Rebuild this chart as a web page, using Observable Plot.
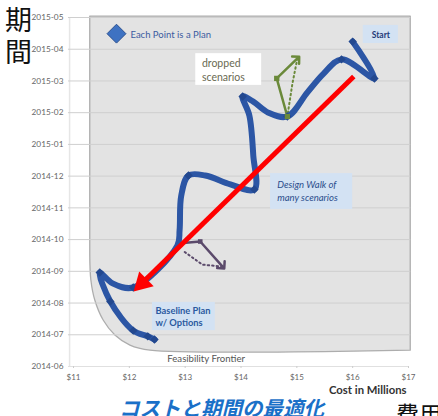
<!DOCTYPE html>
<html><head><meta charset="utf-8">
<script src="https://cdn.jsdelivr.net/npm/d3@7"></script>
<script src="https://cdn.jsdelivr.net/npm/@observablehq/plot@0.6"></script>
<style>
body{margin:0;background:#fff;}
#wrap{position:relative;width:438px;height:416px;overflow:hidden;font-family:Lato,"Open Sans",sans-serif;}
.ov{position:absolute;white-space:nowrap;}
</style></head>
<body><div id="wrap"></div>
<script>
// month tick labels (y index 0..11)
const monthLabels = ["2014-06","2014-07","2014-08","2014-09","2014-10","2014-11","2014-12","2015-01","2015-02","2015-03","2015-04","2015-05"];
const costTicks = [11,12,13,14,15,16,17];
// design walk path: cost ($M), schedule (months since 2014-06), plan marker flag
const walkCost  = [16.00,16.39,15.80,15.48,15.19,14.83,14.49,14.22,14.03,14.15,14.22,14.24,13.81,13.36,13.06,12.93,12.90,12.86,12.07,11.70,11.47,11.66,12.07,12.33,12.45];
const walkMonth = [10.24, 9.08, 9.68, 9.23, 8.64, 7.88, 8.00, 8.35, 8.51, 7.91, 6.65, 5.58, 5.74, 6.02, 6.02, 5.39, 4.29, 3.81, 2.49, 2.62, 2.96, 2.05, 1.13, 0.95, 0.85];
const walkIsPlan = [1,1,1,0,0,1,0,0,1,0,0,1,0,0,1,0,0,0,1,0,1,1,1,1,1];
// dropped scenarios
const greenCost = [14.83,14.64,15.01];
const greenMonth = [7.88,9.08,9.71];
const greenBackCost = [15.01,14.92,14.83];
const greenBackMonth = [9.71,8.91,7.88];
const purpleCost = [12.86,13.27,13.67];
const purpleMonth = [3.88,3.94,3.15];
const purpleBackCost = [13.67,13.31,12.95];
const purpleBackMonth = [3.15,3.21,3.66];
// feasibility frontier (lower-left boundary of feasible region)
const frontierCost = [11.30,11.32,11.39,11.54,11.75,12.02,12.38,17.04];
const frontierMonth = [3.50,2.71,2.08,1.45,0.98,0.66,0.50,0.50];
const regionTop = 11.03;
// red trend arrow (shaft from start to head, head angle in degrees)
const trend = [{x1:16.02,y1:9.14,x2:12.23,y2:2.63,angle:225.6}];

const walk = walkCost.map((c,i)=>({cost:c, month:walkMonth[i], plan:walkIsPlan[i]===1}));
const green = greenCost.map((c,i)=>({cost:c, month:greenMonth[i]}));
const greenBack = greenBackCost.map((c,i)=>({cost:c, month:greenBackMonth[i]}));
const purple = purpleCost.map((c,i)=>({cost:c, month:purpleMonth[i]}));
const purpleBack = purpleBackCost.map((c,i)=>({cost:c, month:purpleBackMonth[i]}));
const frontier = frontierCost.map((c,i)=>({cost:c, month:frontierMonth[i]}));

const boxes = [
  {x1:16.19,x2:16.82,y1:10.18,y2:10.75,fill:"#d3e2f3"},
  {x1:13.19,x2:14.37,y1:8.86,y2:9.86,fill:"#ffffff"},
  {x1:14.53,x2:16.00,y1:4.95,y2:6.08,fill:"#d3e2f3"},
  {x1:12.415,x2:13.54,y1:1.13,y2:2.02,fill:"#d3e2f3"}
];
const notes = [
  {x:16.505,y:10.46,text:"Start",anchor:"middle",fill:"#1f3a78",weight:"bold",style:"normal",size:8.5},
  {x:13.30,y:9.36,text:"dropped\nscenarios",anchor:"start",fill:"#6a6a52",weight:"normal",style:"normal",size:10.5},
  {x:14.65,y:5.55,text:"Design Walk of\nmany scenarios",anchor:"start",fill:"#2b4d8c",weight:"normal",style:"italic",size:9.5},
  {x:12.47,y:1.58,text:"Baseline Plan\nw/ Options",anchor:"start",fill:"#2b5aa0",weight:"bold",style:"normal",size:9.3},
  {x:12.02,y:10.49,text:"Each Point is a Plan",anchor:"start",fill:"#3b5ba0",weight:"normal",style:"normal",size:9.5},
  {x:12.68,y:0.28,text:"Feasibility Frontier",anchor:"start",fill:"#555555",weight:"normal",style:"normal",size:9.6}
];
const legendMark = [{x:11.77,y:10.49}];

const blue = "#2c56a5";
const chart = Plot.plot({
  width:438, height:416,
  marginLeft:73, marginRight:30, marginTop:17, marginBottom:50,
  style:{fontFamily:"Lato, 'Open Sans', sans-serif", background:"transparent"},
  x:{domain:[11,17]},
  y:{domain:[0,11]},
  marks:[
    Plot.ruleX([10.93],{y1:0,y2:11,stroke:"#e6e6e6",strokeWidth:1.5}),
    Plot.areaY(frontier,{x:"cost",y1:"month",y2:()=>regionTop,curve:"catmull-rom",fill:"#e3e3e3",stroke:"#adadad",strokeWidth:1.3}),
    Plot.ruleY(monthLabels.map((_,i)=>i).filter(i=>i>0),{x1:10.91,x2:17.04,stroke:"#cfcfcf",strokeWidth:1}),
    Plot.ruleY([0],{x1:10.91,x2:17,stroke:"#e0e0e0",strokeWidth:1}),
    Plot.axisY({ticks:monthLabels.map((_,i)=>i),tickFormat:i=>monthLabels[i],tickSize:0,tickPadding:10,fill:"#666",fontSize:8.3}),
    Plot.axisX({ticks:costTicks,tickFormat:d=>"$"+d,tickSize:2,tickPadding:6,stroke:"#ccc",fill:"#666",fontSize:8,label:null}),
    Plot.rect(boxes,{x1:"x1",x2:"x2",y1:"y1",y2:"y2",fill:"fill"}),
    Plot.line(purple,{x:"cost",y:"month",stroke:"#5b4a6b",strokeWidth:2.5,markerEnd:"arrow"}),
    Plot.line(purpleBack,{x:"cost",y:"month",stroke:"#5b4a6b",strokeWidth:2,strokeDasharray:"1.5,3"}),
    Plot.line(green,{x:"cost",y:"month",stroke:"#6b8a3a",strokeWidth:2.5,markerEnd:"arrow"}),
    Plot.line(greenBack,{x:"cost",y:"month",stroke:"#6b8a3a",strokeWidth:2,strokeDasharray:"1.5,3"}),
    Plot.line(walk,{x:"cost",y:"month",stroke:blue,strokeWidth:6,curve:"catmull-rom",strokeLinecap:"round",strokeLinejoin:"round"}),
    Plot.dot(walk.filter(d=>d.plan),{x:"cost",y:"month",symbol:"diamond2",r:3.8,fill:"#23488f"}),
    Plot.dot(green.slice(0,2),{x:"cost",y:"month",symbol:"square",r:3,fill:"#6b8a3a"}),
    Plot.dot(purple.slice(1,2),{x:"cost",y:"month",symbol:"square",r:2.6,fill:"#5b4a6b"}),
    Plot.link(trend,{x1:"x1",y1:"y1",x2:"x2",y2:"y2",stroke:"#ff0000",strokeWidth:5}),
    Plot.dot(trend,{x:"x2",y:"y2",symbol:"triangle",r:7.7,rotate:"angle",fill:"#ff0000"}),
    Plot.dot(legendMark,{x:"x",y:"y",symbol:"diamond2",r:8.5,fill:"#3e72c2",stroke:"#2a4f8f",strokeWidth:1}),
    ...notes.map(n=>Plot.text([n],{x:"x",y:"y",text:"text",textAnchor:n.anchor,fill:n.fill,fontWeight:n.weight,fontStyle:n.style,fontSize:n.size,lineHeight:1.3}))
  ]
});
const wrap = document.getElementById("wrap");
wrap.appendChild(chart);
function ov(text, css){const d=document.createElement("div");d.className="ov";d.textContent=text;d.style.cssText+=css;wrap.appendChild(d);}
ov("期","left:5px;top:4px;font-size:27px;line-height:30px;font-family:'Noto Sans CJK JP';color:#111;");
ov("間","left:5px;top:36px;font-size:27px;line-height:30px;font-family:'Noto Sans CJK JP';color:#111;");
ov("Cost in Millions","left:329px;top:383px;font-size:11.3px;font-weight:bold;color:#333;");
ov("コストと期間の最適化","left:119px;top:392px;font-size:20.5px;font-weight:bold;font-style:italic;color:#1a70c8;font-family:'Noto Sans CJK JP';");
ov("費用","left:396px;top:396px;font-size:23px;color:#111;font-family:'Noto Sans CJK JP';");
</script></body></html>
